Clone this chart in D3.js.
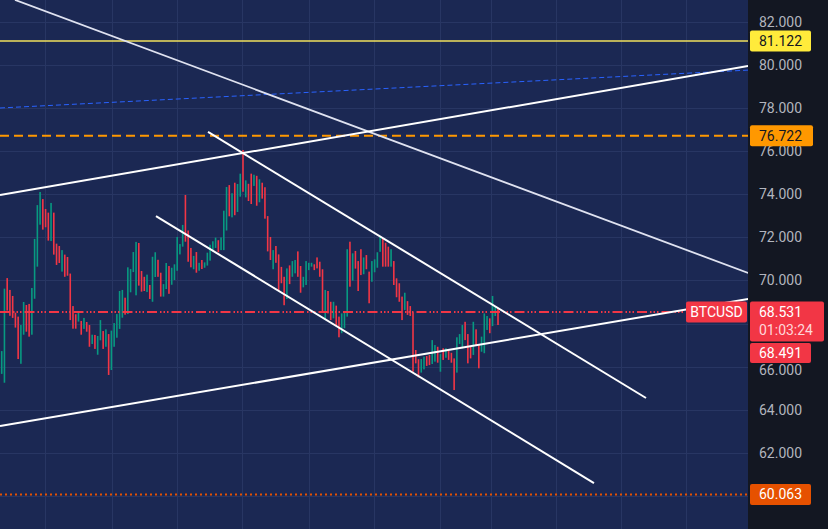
<!DOCTYPE html>
<meta charset="utf-8">
<script src="https://d3js.org/d3.v7.min.js"></script>
<style>
  body { margin: 0; background: #131722; }
  svg { display: block; font-family: Roboto, "Noto Sans", sans-serif; }
</style>
<div id="chart"></div>
<script>
// candle highs / lows, bar by bar (BTCUSD, thousands)
var highs = [
  66.72, 69.62, 70.11, 69.56, 69.28, 68.50, 68.32, 67.93, 69.00, 68.86,
  68.91, 69.65, 71.93, 73.50, 74.11, 73.78, 73.32, 73.15, 73.60, 73.15,
  71.71, 71.60, 71.41, 71.20, 71.09, 70.32, 68.81, 68.43, 68.55, 68.12,
  68.26, 68.07, 67.93, 67.48, 67.47, 67.42, 68.16, 67.65, 67.73, 67.51,
  67.67, 68.02, 68.44, 69.51, 69.56, 69.20, 70.61, 70.53, 71.32, 71.79,
  71.74, 70.44, 70.17, 70.27, 69.79, 71.10, 71.31, 70.96, 70.36, 69.83,
  70.81, 70.67, 70.59, 70.75, 72.02, 71.69, 72.58, 73.97, 72.32, 71.51,
  71.14, 71.32, 70.82, 70.95, 70.84, 71.29, 71.66, 71.82, 71.99, 71.87,
  72.00, 73.24, 74.34, 74.43, 74.05, 74.54, 74.48, 74.96, 76.06, 74.65,
  74.49, 74.96, 74.91, 74.86, 74.70, 74.54, 74.33, 72.99, 72.02, 71.41,
  71.60, 71.21, 70.63, 70.17, 70.56, 70.70, 70.90, 70.95, 71.35, 70.67,
  70.17, 70.90, 70.82, 70.82, 70.75, 71.07, 70.87, 70.52, 69.56, 69.51,
  69.01, 69.01, 68.83, 68.32, 68.47, 68.50, 71.45, 71.80, 71.26, 71.37,
  70.90, 71.45, 71.07, 71.18, 70.41, 70.90, 70.98, 71.31, 72.03, 71.96,
  71.75, 71.57, 71.45, 70.90, 70.10, 69.87, 69.25, 69.43, 69.04, 68.81,
  68.52, 66.77, 66.34, 66.35, 66.46, 66.49, 66.54, 67.23, 67.00, 66.92,
  66.58, 66.85, 66.85, 66.74, 66.64, 66.38, 67.36, 67.51, 67.93, 68.08,
  67.51, 66.92, 68.08, 67.73, 67.00, 67.39, 68.47, 68.35, 68.24, 69.28,
  68.81, 68.71
];
var lows = [
  65.66, 65.25, 68.60, 68.36, 68.26, 67.81, 66.35, 66.13, 67.48, 67.62,
  67.39, 67.48, 69.15, 70.64, 72.59, 72.36, 72.47, 71.85, 71.83, 71.20,
  70.72, 70.81, 70.41, 70.17, 70.22, 68.16, 67.76, 67.76, 68.09, 67.48,
  67.75, 67.62, 66.92, 67.05, 66.82, 66.55, 67.22, 66.82, 66.92, 65.61,
  65.84, 66.92, 67.34, 67.75, 68.27, 68.41, 68.44, 69.45, 70.39, 69.31,
  69.76, 69.48, 69.51, 69.46, 69.14, 69.01, 70.16, 70.17, 69.25, 69.25,
  69.60, 69.38, 69.80, 70.02, 70.45, 71.21, 71.57, 71.80, 70.87, 70.61,
  70.52, 70.36, 70.45, 70.53, 70.59, 70.69, 70.92, 71.33, 71.51, 71.31,
  71.41, 71.41, 72.32, 72.98, 72.93, 73.03, 73.18, 73.89, 74.12, 73.86,
  73.69, 73.55, 74.39, 73.47, 73.63, 73.80, 72.87, 71.35, 70.95, 70.52,
  70.82, 69.51, 69.87, 68.85, 69.14, 69.83, 70.17, 70.33, 70.17, 69.43,
  69.68, 69.79, 70.48, 70.64, 70.48, 70.56, 70.17, 68.55, 68.16, 68.47,
  68.16, 68.24, 67.90, 67.36, 67.55, 67.78, 68.32, 69.71, 69.99, 70.55,
  69.51, 70.25, 70.29, 70.52, 68.94, 69.94, 70.38, 70.59, 71.33, 70.64,
  70.64, 70.64, 70.64, 69.79, 69.22, 69.01, 68.16, 68.63, 68.40, 68.35,
  65.76, 66.15, 65.50, 65.72, 65.87, 66.03, 66.07, 66.12, 66.23, 66.18,
  65.76, 66.31, 66.41, 66.31, 66.18, 64.91, 65.72, 67.05, 66.85, 67.23,
  66.15, 66.38, 66.54, 67.00, 65.92, 66.69, 66.62, 67.70, 67.55, 67.88,
  68.35, 67.93
];
// u = up (green) bar, d = down (red) bar
var dirs = ("uuddddduud" + "duuuudddud" + "ddudddddud" + "udduduudud" + "uuuuuduuuu" +
            "ddduduuddu" + "uduuuuuddd" + "ududuuuuud" + "uuududuudu" + "ddududdddu" +
            "dddduduudd" + "uuuuddddud" + "dudduuudud" + "ddudduuuud" + "dduddddudd" +
            "ddduudduud" + "ududdduuud" + "ddudduuudu" + "ud").split("");

var priceTicks = [62, 64, 66, 70, 72, 74, 76, 78, 80, 82];
var gridPrices = [60, 62, 64, 66, 68, 70, 72, 74, 76, 78, 80, 82];
var gridBars = [15.8, 40.1, 64, 87.7, 112.2, 135.9, 159.8, 178.3, 202.1, 225.9, 249.6];

// horizontal alerts / levels
var levelYellow = 81.122, levelOrange = 76.722, levelLast = 68.531, levelBid = 68.491, levelLow = 60.063;
var countdown = "01:03:24";
var symbol = "BTCUSD";

// drawn trend lines: [bar index, price] end points
var lineTopDown   = [[4.85, 83.03], [272.2, 70.35]];
var lineUpper     = [[-0.62, 73.97], [272.2, 79.96]];
var lineLower     = [[-0.62, 63.24], [272.2, 69.14]];
var chanUpper     = [[75.24, 76.90], [234.98, 64.54]];
var chanLower     = [[56.27, 72.99], [216.0, 60.59]];
var blueDashed    = [[-0.62, 78.01], [272.2, 79.77]];

var W = 828, H = 529, plotW = 748;

var svg = d3.select("#chart").append("svg")
    .attr("width", W).attr("height", H);

var x = d3.scaleLinear().domain([-0.62, 272.17]).range([0, plotW]);
var y = d3.scaleLinear().domain([58.456, 83.026]).range([H, 0]);

svg.append("rect").attr("width", plotW).attr("height", H).attr("fill", "#1b2853");
svg.append("rect").attr("x", plotW).attr("width", W - plotW).attr("height", H).attr("fill", "#131722");

svg.append("defs").append("clipPath").attr("id", "clip")
  .append("rect").attr("width", plotW).attr("height", H);

var plot = svg.append("g").attr("clip-path", "url(#clip)");

// grid
plot.selectAll(".hg").data(gridPrices).enter().append("line")
    .attr("x1", 0).attr("x2", plotW)
    .attr("y1", function(d) { return Math.round(y(d)) + 0.5; })
    .attr("y2", function(d) { return Math.round(y(d)) + 0.5; })
    .attr("stroke", "#283663").attr("stroke-width", 1);
plot.selectAll(".vg").data(gridBars).enter().append("line")
    .attr("y1", 0).attr("y2", H)
    .attr("x1", function(d) { return Math.round(x(d)) + 0.5; })
    .attr("x2", function(d) { return Math.round(x(d)) + 0.5; })
    .attr("stroke", "#283663").attr("stroke-width", 1);

// horizontal levels
function hline(p, color, width, dash) {
  plot.append("line")
    .attr("x1", 0).attr("x2", plotW)
    .attr("y1", y(p)).attr("y2", y(p))
    .attr("stroke", color).attr("stroke-width", width)
    .attr("stroke-dasharray", dash);
}
hline(levelYellow, "#f2e05c", 1.5, null);
hline(levelOrange, "#ff9800", 2, "9,5");
hline(levelLow, "#e65100", 2, "2,3");

// candles
var bars = highs.map(function(h, i) { return {i: i, h: h, l: lows[i], up: dirs[i] === "u"}; });
plot.selectAll(".bar").data(bars).enter().append("rect")
    .attr("x", function(d) { return x(d.i) - 0.8; })
    .attr("width", 1.6)
    .attr("y", function(d) { return y(d.h); })
    .attr("height", function(d) { return Math.max(1, y(d.l) - y(d.h)); })
    .attr("fill", function(d) { return d.up ? "#089981" : "#f23645"; });

hline(levelLast, "#f23645", 2, "10,3,1.5,2,1.5,2,1.5,3");

// trend lines
var line = d3.line().x(function(d) { return x(d[0]); }).y(function(d) { return y(d[1]); });
plot.append("path").attr("d", line(blueDashed)).attr("fill", "none")
    .attr("stroke", "#2962ff").attr("stroke-width", 1).attr("stroke-dasharray", "5,3");
plot.append("path").attr("d", line(lineTopDown)).attr("fill", "none")
    .attr("stroke", "#dfe2f0").attr("stroke-width", 1.8);
[lineUpper, lineLower, chanUpper, chanLower].forEach(function(l) {
  plot.append("path").attr("d", line(l)).attr("fill", "none")
      .attr("stroke", "#ffffff").attr("stroke-width", 2);
});

// price axis
var axis = svg.append("g").attr("transform", "translate(" + plotW + ",0)")
    .call(d3.axisRight(y).tickValues(priceTicks).tickSize(0).tickPadding(11)
      .tickFormat(d3.format(".3f")));
axis.select(".domain").remove();
axis.selectAll("text").attr("fill", "#b2b5be").style("font-size", "14px")
    .style("font-family", "Roboto, sans-serif");
// 66.000 sits just under the stacked last-price tags
axis.selectAll(".tick").filter(function(d) { return d === 66; })
    .select("text").attr("dy", "0.55em");

// axis labels for levels
var fmt = d3.format(".3f");
function tag(p, bg, fg, w) {
  var cy = y(p);
  svg.append("rect").attr("x", plotW + 2).attr("y", cy - 10.5).attr("width", w).attr("height", 21)
      .attr("rx", 2).attr("fill", bg);
  svg.append("text").attr("x", plotW + 11).attr("y", cy + 5).attr("fill", fg)
      .style("font-size", "14px").text(fmt(p));
}
tag(levelYellow, "#ffeb3b", "#131722", 61);
tag(levelOrange, "#ff9800", "#131722", 63);
tag(levelLow, "#e65100", "#ffffff", 61);

var ly = y(levelLast);
svg.append("rect").attr("x", plotW + 2).attr("y", ly - 10.5).attr("width", 74).attr("height", 40)
    .attr("rx", 2).attr("fill", "#f23645");
svg.append("text").attr("x", plotW + 11).attr("y", ly + 5).attr("fill", "#ffffff")
    .style("font-size", "14px").text(fmt(levelLast));
svg.append("text").attr("x", plotW + 11).attr("y", ly + 23).attr("fill", "#ffd6da")
    .style("font-size", "14px").text(countdown);
svg.append("rect").attr("x", plotW + 2).attr("y", ly + 31).attr("width", 61).attr("height", 20)
    .attr("rx", 2).attr("fill", "#f23645");
svg.append("text").attr("x", plotW + 11).attr("y", ly + 46).attr("fill", "#ffffff")
    .style("font-size", "14px").text(fmt(levelBid));

svg.append("rect").attr("x", 686).attr("y", ly - 10.5).attr("width", 61).attr("height", 21)
    .attr("rx", 2).attr("fill", "#f23645");
svg.append("text").attr("x", 716.5).attr("y", ly + 5).attr("fill", "#ffffff")
    .attr("text-anchor", "middle").style("font-size", "14px").text(symbol);
</script>
